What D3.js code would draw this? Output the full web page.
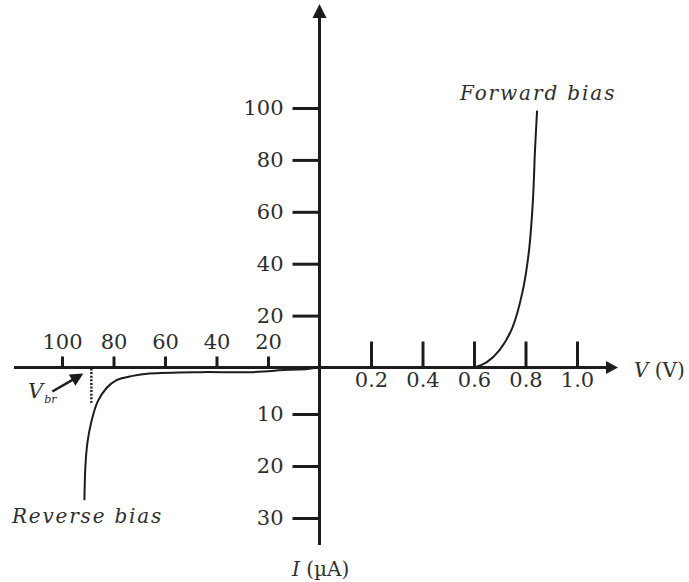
<!DOCTYPE html>
<html>
<head>
<meta charset="utf-8">
<script src="https://cdn.jsdelivr.net/npm/d3@7"></script>
<style>
  html, body { margin: 0; padding: 0; background: #fff; }
  svg { display: block; }
  .num { font-family: "DejaVu Serif", "Liberation Serif", serif; font-size: 21px; fill: #2e2e2e; }
  .lbl { font-family: "DejaVu Serif", "Liberation Serif", serif; fill: #2e2e2e; }
</style>
</head>
<body>
<svg id="chart" width="689" height="582"></svg>
<script>
// Forward bias: voltage (V) and current (mA)
const fwdV = [0.60, 0.65, 0.70, 0.75, 0.79, 0.814, 0.829, 0.837, 0.845];
const fwdI = [0, 2.1, 6.8, 15.6, 29.9, 45.4, 64.7, 84, 99];

// Reverse bias: voltage magnitude (V) and current magnitude (µA)
const revV = [0, 4.7, 12.5, 27, 46, 66, 72.6, 78.8, 82.7, 86.2, 88.6, 90.1, 90.9, 91.3];
const revI = [0, 0.3, 0.5, 1.0, 1.0, 1.3, 1.8, 2.7, 4.4, 7.4, 11.5, 15.4, 19.9, 26.6];

// Breakdown voltage marker
const vBreak = 88.6;
const vBreakI = 7.6;

// Tick labels
const fwdVTicks = [0.2, 0.4, 0.6, 0.8, 1.0];
const revVTicks = [20, 40, 60, 80, 100];
const fwdITicks = [20, 40, 60, 80, 100];
const revITicks = [10, 20, 30];

const svg = d3.select("#chart");
const ink = "#1c1c1c";
const ox = 319.5, oy = 367.5;

// Four half-axes share the origin
const xF = d3.scaleLinear().domain([0, 1]).range([ox, 577]);
const xR = d3.scaleLinear().domain([0, 100]).range([ox, 62]);
const yF = d3.scaleLinear().domain([0, 100]).range([oy, 108]);
const yR = d3.scaleLinear().domain([0, 10, 30]).range([oy, 414, 518]);

function styleAxis(g) {
  g.select(".domain").remove();
  g.selectAll(".tick line").attr("stroke", ink).attr("stroke-width", 3);
  g.selectAll(".tick text").attr("class", "num").attr("fill", "#2e2e2e");
}

// Forward voltage axis: ticks rise above, labels below
svg.append("g").attr("transform", `translate(0,${oy})`)
  .call(d3.axisBottom(xF).tickValues(fwdVTicks).tickSizeInner(-26).tickSizeOuter(0)
    .tickPadding(5).tickFormat(d3.format(".1f")))
  .call(styleAxis);

// Reverse voltage axis: short ticks and labels above
svg.append("g").attr("transform", `translate(0,${oy})`)
  .call(d3.axisTop(xR).tickValues(revVTicks).tickSizeInner(11).tickSizeOuter(0)
    .tickPadding(8).tickFormat(d3.format("d")))
  .call(styleAxis);

// Forward current axis (mA)
svg.append("g").attr("transform", `translate(${ox},0)`)
  .call(d3.axisLeft(yF).tickValues(fwdITicks).tickSizeInner(27).tickSizeOuter(0)
    .tickPadding(9).tickFormat(d3.format("d")))
  .call(styleAxis);

// Reverse current axis (µA)
svg.append("g").attr("transform", `translate(${ox},0)`)
  .call(d3.axisLeft(yR).tickValues(revITicks).tickSizeInner(27).tickSizeOuter(0)
    .tickPadding(9).tickFormat(d3.format("d")))
  .call(styleAxis);

// Main axis lines with arrowheads
svg.append("line").attr("x1", 14).attr("y1", oy).attr("x2", 608).attr("y2", oy)
  .attr("stroke", ink).attr("stroke-width", 3);
svg.append("path").attr("d", `M618,${oy} L606,${oy - 6.5} L606,${oy + 6.5} Z`).attr("fill", ink);

svg.append("line").attr("x1", ox).attr("y1", 545).attr("x2", ox).attr("y2", 16)
  .attr("stroke", ink).attr("stroke-width", 3);
svg.append("path").attr("d", `M${ox},4 L${ox - 7},18 L${ox + 7},18 Z`).attr("fill", ink);

// Characteristic curves
const fwdLine = d3.line().curve(d3.curveCatmullRom.alpha(0.5))
  .x(i => xF(fwdV[i])).y(i => yF(fwdI[i]));
svg.append("path").attr("d", fwdLine(d3.range(fwdV.length)))
  .attr("fill", "none").attr("stroke", ink).attr("stroke-width", 2);

const revLine = d3.line().curve(d3.curveCatmullRom.alpha(0.5))
  .x(i => xR(revV[i])).y(i => yR(revI[i]));
svg.append("path").attr("d", revLine(d3.range(revV.length)))
  .attr("fill", "none").attr("stroke", ink).attr("stroke-width", 2);

// Breakdown voltage: dotted drop line and pointer
svg.append("line")
  .attr("x1", xR(vBreak)).attr("y1", oy + 1)
  .attr("x2", xR(vBreak)).attr("y2", yR(vBreakI))
  .attr("stroke", ink).attr("stroke-width", 2.4).attr("stroke-dasharray", "2,1.6");

const tipX = xR(vBreak) - 8, tipY = oy + 6;
const tailX = tipX - 31, tailY = tipY + 18;
const ang = Math.atan2(tipY - tailY, tipX - tailX);
svg.append("line").attr("x1", tailX).attr("y1", tailY)
  .attr("x2", tipX - 9 * Math.cos(ang)).attr("y2", tipY - 9 * Math.sin(ang))
  .attr("stroke", ink).attr("stroke-width", 2.6);
const hx = tipX - 13 * Math.cos(ang), hy = tipY - 13 * Math.sin(ang);
const px = -Math.sin(ang) * 6.5, py = Math.cos(ang) * 6.5;
svg.append("path")
  .attr("d", `M${tipX},${tipY} L${hx + px},${hy + py} L${hx - px},${hy - py} Z`)
  .attr("fill", ink);

const vbr = svg.append("text").attr("class", "lbl").attr("x", 28).attr("y", 398)
  .attr("font-size", 21).attr("font-style", "italic");
vbr.append("tspan").text("V");
vbr.append("tspan").attr("font-size", 11).attr("dy", 5).attr("dx", 1).text("br");

// Axis titles
const vt = svg.append("text").attr("class", "lbl").attr("x", 634).attr("y", 377).attr("font-size", 20);
vt.append("tspan").attr("font-style", "italic").text("V");
vt.append("tspan").text(" (V)");

const it = svg.append("text").attr("class", "lbl").attr("x", 292).attr("y", 576).attr("font-size", 20);
it.append("tspan").attr("font-style", "italic").text("I");
it.append("tspan").text(" (µA)");

// Region labels
svg.append("text").attr("class", "lbl").attr("x", 460).attr("y", 100)
  .attr("font-size", 20).attr("font-style", "italic").attr("letter-spacing", 1.9)
  .text("Forward bias");
svg.append("text").attr("class", "lbl").attr("x", 12).attr("y", 523)
  .attr("font-size", 20).attr("font-style", "italic").attr("letter-spacing", 1.8)
  .text("Reverse bias");
</script>
</body>
</html>
